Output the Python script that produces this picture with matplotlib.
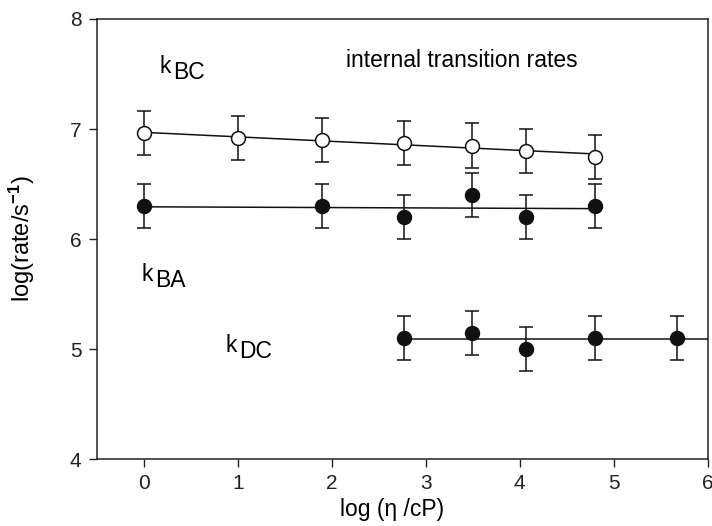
import numpy as np
import matplotlib
matplotlib.use("Agg")
import matplotlib.pyplot as plt

plt.rcParams['font.family'] = ['Liberation Sans', 'DejaVu Sans']
plt.rcParams['mathtext.fontset'] = 'custom'
plt.rcParams['mathtext.rm'] = 'Liberation Sans'
plt.rcParams['mathtext.it'] = 'Liberation Sans'
plt.rcParams['mathtext.bf'] = 'Liberation Sans:bold'

# log viscosity values and log rates for each internal transition
x_bc = [0.0, 1.0, 1.9, 2.77, 3.49, 4.07, 4.8]
y_bc = [6.96, 6.92, 6.90, 6.87, 6.85, 6.80, 6.75]
err_bc = [0.2, 0.2, 0.2, 0.2, 0.2, 0.2, 0.2]

x_ba = [0.0, 1.9, 2.77, 3.49, 4.07, 4.8]
y_ba = [6.30, 6.30, 6.20, 6.40, 6.20, 6.30]
err_ba = [0.2, 0.2, 0.2, 0.2, 0.2, 0.2]

x_dc = [2.77, 3.49, 4.07, 4.8, 5.67]
y_dc = [5.10, 5.15, 5.00, 5.10, 5.10]
err_dc = [0.2, 0.2, 0.2, 0.2, 0.2]

x_ticks = [0, 1, 2, 3, 4, 5, 6]
y_ticks = [4, 5, 6, 7, 8]

fig = plt.figure(figsize=(7.12, 5.26), dpi=100)
ax = fig.add_axes([0.136, 0.127, 0.858, 0.837])

ink = '#111111'
eb_kw = dict(fmt='none', ecolor=ink, elinewidth=1.1, capsize=5, capthick=1.1, zorder=2)
mk_kw = dict(linestyle='none', marker='o', markersize=10, markeredgecolor=ink,
             markeredgewidth=1.1, zorder=4)

# k_BC: open circles with linear fit
ax.errorbar(x_bc, y_bc, yerr=err_bc, **eb_kw)
p = np.polyfit(x_bc, y_bc, 1)
xf = np.array([min(x_bc), max(x_bc)])
ax.plot(xf, np.polyval(p, xf), color=ink, lw=1.1, zorder=3)
ax.plot(x_bc, y_bc, markerfacecolor='white', **mk_kw)

# k_BA: filled circles with linear fit
ax.errorbar(x_ba, y_ba, yerr=err_ba, **eb_kw)
p = np.polyfit(x_ba, y_ba, 1)
xf = np.array([min(x_ba), max(x_ba)])
ax.plot(xf, np.polyval(p, xf), color=ink, lw=1.1, zorder=3)
ax.plot(x_ba, y_ba, markerfacecolor=ink, **mk_kw)

# k_DC: filled circles, level line carried to the axis edge
ax.errorbar(x_dc, y_dc, yerr=err_dc, **eb_kw)
ax.plot([min(x_dc), 6.0], [np.mean(y_dc)] * 2, color=ink, lw=1.1, zorder=3)
ax.plot(x_dc, y_dc, markerfacecolor=ink, **mk_kw)

ax.set_xlim(-0.5, 6)
ax.set_ylim(4, 8)
ax.set_xticks(x_ticks)
ax.set_yticks(y_ticks)
ax.tick_params(direction='out', length=6, width=1, labelsize=15, colors='#222222', pad=5)
for s in ax.spines.values():
    s.set_linewidth(1.1)
    s.set_color('#222222')

ax.set_xlabel('log (\u03b7 /cP)', fontsize=16.5)
ax.xaxis.set_label_coords(0.483, -0.088)
ax.set_ylabel('log(rate/s$^{\\mathbf{-1}}$)', fontsize=17)
ax.yaxis.set_label_coords(-0.098, 0.5)

def rate_label(x, y, sub):
    ax.text(x, y, 'k', fontsize=16.5, ha='left', va='baseline')
    ax.annotate(sub, xy=(x, y), xycoords='data', xytext=(9.5, -4.3),
                textcoords='offset points', fontsize=16.5, ha='left', va='baseline')

rate_label(0.17, 7.51, 'BC')
rate_label(-0.02, 5.62, 'BA')
rate_label(0.87, 4.97, 'DC')
ax.text(2.15, 7.56, 'internal transition rates', fontsize=16.5, ha='left', va='baseline')

fig.savefig('out.png', dpi=100)
